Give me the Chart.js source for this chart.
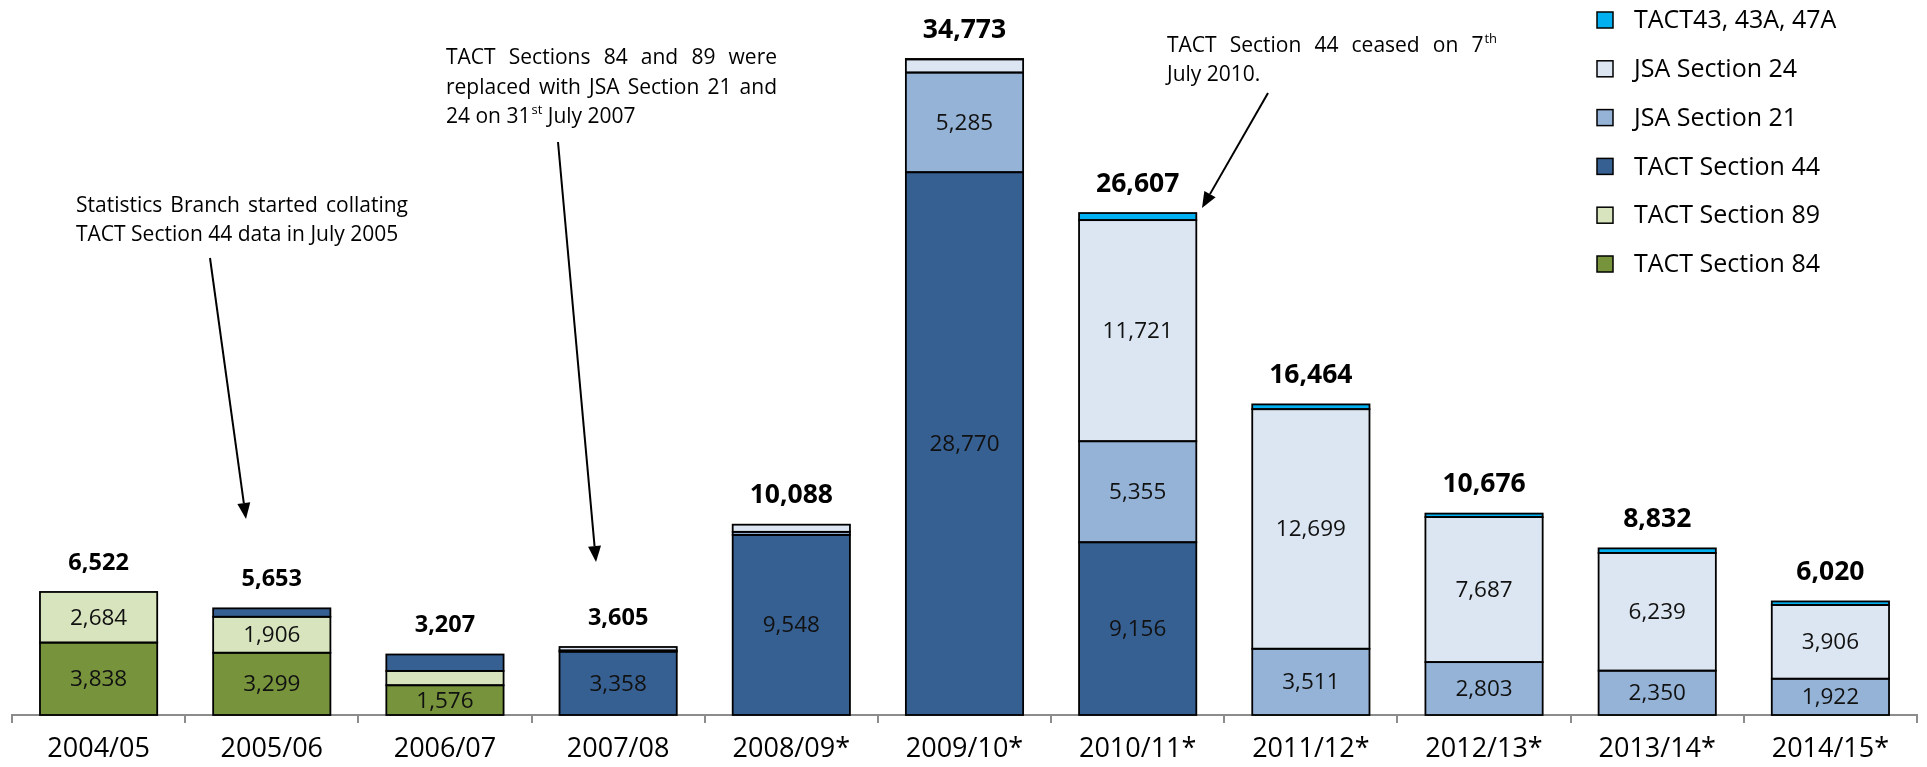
<!DOCTYPE html>
<html><head><meta charset="utf-8">
<script src="https://cdn.jsdelivr.net/npm/chart.js@4.4.1/dist/chart.umd.min.js"></script>
<style>html,body{margin:0;padding:0;background:#fff;} #wrap{width:1927px;height:767px;position:relative;}</style>
</head><body><div id="wrap"><canvas id="c" width="1927" height="767"></canvas></div>
<script>
// ---- data ----
const categories = ['2004/05','2005/06','2006/07','2007/08','2008/09*','2009/10*','2010/11*','2011/12*','2012/13*','2013/14*','2014/15*'];
const tact84 = [3838, 3299, 1576, 0, 0, 0, 0, 0, 0, 0, 0];
const tact89 = [2684, 1906, 760, 0, 0, 0, 0, 0, 0, 0, 0];
const tact44 = [0, 448, 871, 3358, 9548, 28770, 9156, 0, 0, 0, 0];
const jsa21  = [0, 0, 0, 60, 160, 5285, 5355, 3511, 2803, 2350, 1922];
const jsa24  = [0, 0, 0, 187, 380, 700, 11721, 12699, 7687, 6239, 3906];
const tact43 = [0, 0, 0, 0, 0, 18, 375, 254, 186, 243, 192];
const totals = [6522, 5653, 3207, 3605, 10088, 34773, 26607, 16464, 10676, 8832, 6020];
const seriesNames = ['TACT Section 84','TACT Section 89','TACT Section 44','JSA Section 21','JSA Section 24','TACT43, 43A, 47A'];
const seriesValues = [tact84, tact89, tact44, jsa21, jsa24, tact43];
const seriesColors = ['#77933C','#D7E4BD','#376092','#95B3D7','#DCE6F2','#00B0F0'];

const annotations = [
  {x:76, y:212, w:332, lh:28.5, lines:['Statistics Branch started collating','TACT Section 44 data in July 2005'], arrow:[210,258,246,519]},
  {x:446, y:64, w:331, lh:29.5, lines:['TACT Sections 84 and 89 were','replaced with JSA Section 21 and','24 on 31^st July 2007'], arrow:[558,142,596,562]},
  {x:1167, y:52, w:330, lh:28.5, lines:['TACT Section 44 ceased on 7^th','July 2010.'], arrow:[1268,93,1202,208]}
];

const FONT = '"Open Sans", "Liberation Sans", sans-serif';
const fmt = v => v.toLocaleString('en-US');

const outlinePlugin = {
  id:'outline',
  afterDatasetsDraw(chart){
    const ctx = chart.ctx; ctx.save(); ctx.strokeStyle='#000'; ctx.lineWidth=1.8;
    chart.data.datasets.forEach((ds,di)=>{
      const meta = chart.getDatasetMeta(di);
      meta.data.forEach((el,i)=>{
        if(!ds.data[i]) return;
        const p = el.getProps(['x','y','base','width'], true);
        ctx.strokeRect(p.x - p.width/2, p.y, p.width, p.base - p.y);
      });
    });
    ctx.restore();
  }
};

const labelPlugin = {
  id:'labels',
  afterDraw(chart){
    const ctx = chart.ctx; ctx.save();
    ctx.textAlign='center'; ctx.textBaseline='middle'; ctx.fillStyle='#111';
    ctx.font = '22.5px ' + FONT;
    chart.data.datasets.forEach((ds,di)=>{
      const meta = chart.getDatasetMeta(di);
      meta.data.forEach((el,i)=>{
        const v = ds.data[i];
        if(v < 1000) return;
        const p = el.getProps(['x','y','base'], true);
        ctx.fillText(fmt(v), p.x, (p.y + p.base)/2 + 1);
      });
    });
    const ys = chart.scales.y, xs = chart.scales.x;
    ctx.fillStyle='#000';
    totals.forEach((t,i)=>{
      ctx.font = 'bold ' + (i < 4 ? 23.5 : 26.5) + 'px ' + FONT;
      ctx.fillText(fmt(t), xs.getPixelForValue(i), ys.getPixelForValue(t) - 29);
    });
    ctx.restore();
  }
};

const legendPlugin = {
  id:'customLegend',
  afterDraw(chart){
    const ctx = chart.ctx; ctx.save();
    const n = chart.data.datasets.length;
    ctx.font = '25px ' + FONT; ctx.textBaseline='middle'; ctx.textAlign='left';
    for(let k=0;k<n;k++){
      const ds = chart.data.datasets[n-1-k];
      const cy = 20 + k*48.8;
      ctx.fillStyle = ds.backgroundColor;
      ctx.fillRect(1597, cy-8, 16, 16);
      ctx.strokeStyle='#000'; ctx.lineWidth=1.5;
      ctx.strokeRect(1597, cy-8, 16, 16);
      ctx.fillStyle='#000';
      ctx.fillText(ds.label, 1634, cy+1);
    }
    ctx.restore();
  }
};

function wordWidth(ctx, w){
  const parts = w.split('^');
  ctx.font = '21px ' + FONT;
  let width = ctx.measureText(parts[0]).width;
  if(parts[1]){ ctx.font = '13px ' + FONT; width += ctx.measureText(parts[1]).width + 1; }
  return width;
}
function drawWord(ctx, w, x, y){
  const parts = w.split('^');
  ctx.font = '21px ' + FONT;
  ctx.fillText(parts[0], x, y);
  if(parts[1]){
    const wd = ctx.measureText(parts[0]).width;
    ctx.font = '13px ' + FONT;
    ctx.fillText(parts[1], x + wd + 1, y - 9);
  }
}
const annotationPlugin = {
  id:'annot',
  afterDraw(chart){
    const ctx = chart.ctx; ctx.save();
    ctx.fillStyle='#000'; ctx.textBaseline='alphabetic'; ctx.textAlign='left';
    annotations.forEach(a=>{
      a.lines.forEach((line,li)=>{
        const words = line.split(' ');
        const widths = words.map(w=>wordWidth(ctx,w));
        const last = li === a.lines.length-1;
        ctx.font='21px '+FONT;
        const sp = ctx.measureText(' ').width;
        const gap = last ? sp : (a.w - widths.reduce((s,v)=>s+v,0)) / (words.length-1);
        let x = a.x; const y = a.y + li*a.lh;
        words.forEach((w,wi)=>{ drawWord(ctx,w,x,y); x += widths[wi] + gap; });
      });
      const [x1,y1,x2,y2] = a.arrow;
      const ang = Math.atan2(y2-y1, x2-x1);
      const L = 16, H = 6.5;
      const bx = x2 - L*Math.cos(ang), by = y2 - L*Math.sin(ang);
      ctx.strokeStyle='#000'; ctx.lineWidth=2;
      ctx.beginPath(); ctx.moveTo(x1,y1); ctx.lineTo(bx,by); ctx.stroke();
      ctx.beginPath(); ctx.moveTo(x2,y2);
      ctx.lineTo(bx + H*Math.sin(ang), by - H*Math.cos(ang));
      ctx.lineTo(bx - H*Math.sin(ang), by + H*Math.cos(ang));
      ctx.closePath(); ctx.fill();
    });
    ctx.restore();
  }
};

new Chart(document.getElementById('c'), {
  type:'bar',
  data:{
    labels: categories,
    datasets: seriesNames.map((name,i)=>({
      label: name, data: seriesValues[i], backgroundColor: seriesColors[i],
      borderWidth: 0, categoryPercentage: 1, barPercentage: 0.677
    }))
  },
  options:{
    responsive:false, animation:false, devicePixelRatio:1,
    layout:{padding:{left:12, right:10, top:0, bottom:0}},
    plugins:{legend:{display:false}, tooltip:{enabled:false}},
    scales:{
      x:{ stacked:true,
        grid:{drawOnChartArea:false, drawTicks:true, tickLength:8, color:'#8c8c8c', lineWidth:2},
        border:{display:true, color:'#8c8c8c', width:2},
        ticks:{color:'#000', font:{family:FONT, size:27}, padding:10, maxRotation:0, autoSkip:false},
        afterFit(scale){ scale.height = 52; }
      },
      y:{ stacked:true, display:false, min:0, max:37900 }
    }
  },
  plugins:[outlinePlugin, labelPlugin, legendPlugin, annotationPlugin]
});
</script>
</body></html>
